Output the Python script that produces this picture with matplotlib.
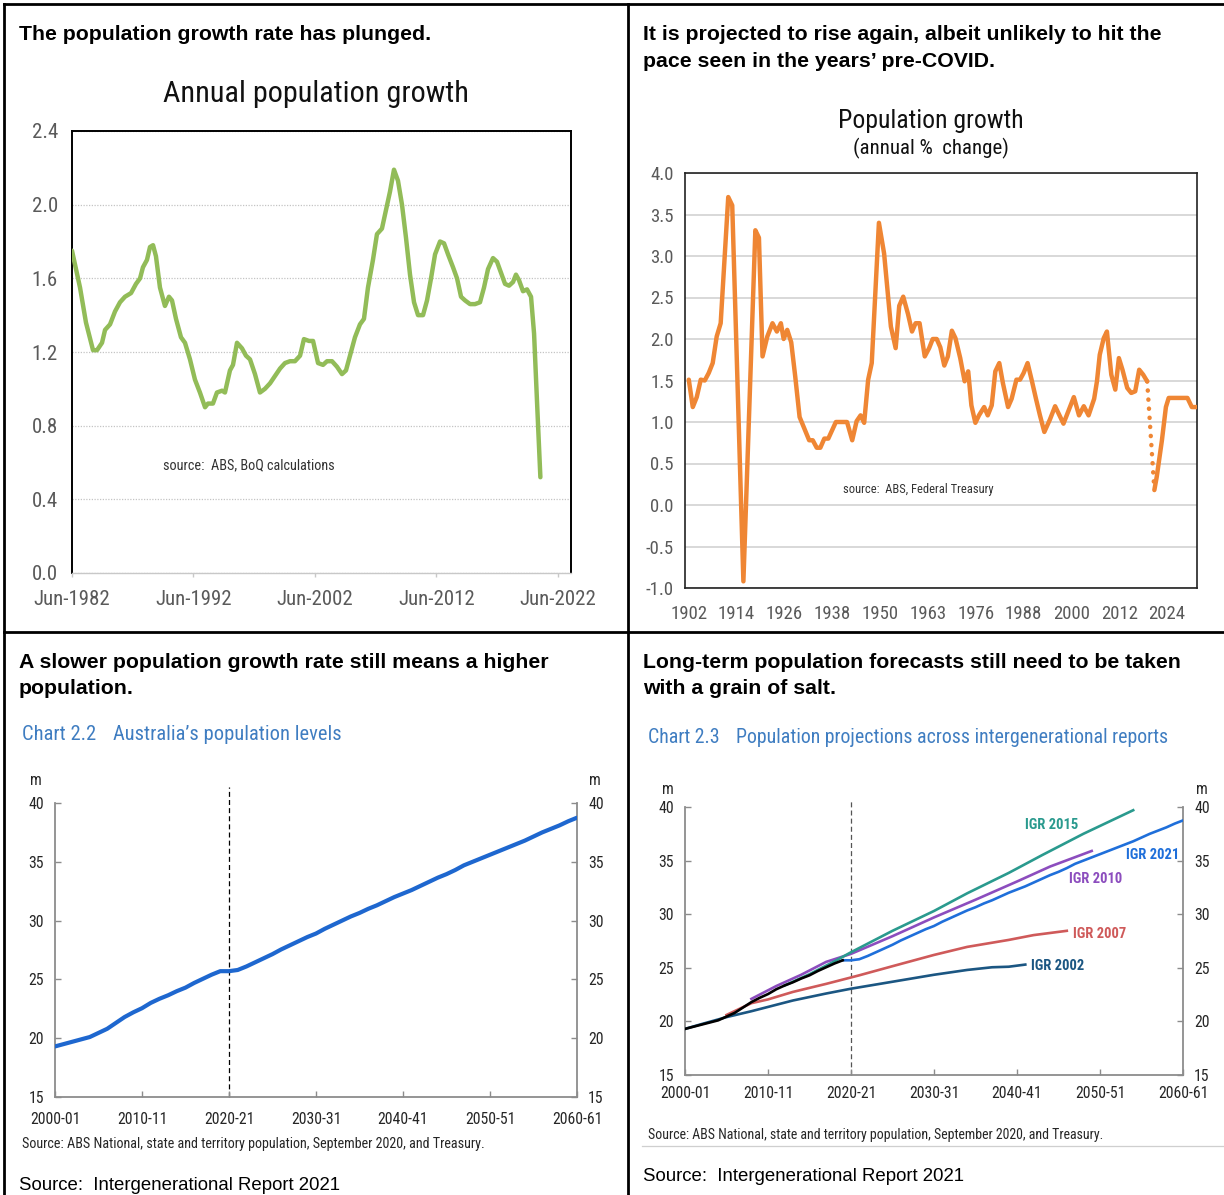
import matplotlib
matplotlib.use("Agg")
import matplotlib.pyplot as plt
from matplotlib import font_manager
from matplotlib.lines import Line2D

# ---------------------------------------------------------------- data
# Panel 1: annual population growth (%), quarterly readings (decimal year)
growth_dates = [1982.50, 1983.16, 1983.65, 1984.23, 1984.56, 1984.97, 1985.22, 1985.63,
                1986.04, 1986.45, 1986.86, 1987.36, 1987.77, 1988.10, 1988.34, 1988.67,
                1988.92, 1989.17, 1989.41, 1989.74, 1990.15, 1990.48, 1990.73, 1991.06,
                1991.47, 1991.80, 1992.21, 1992.62, 1993.03, 1993.45, 1993.69, 1994.10,
                1994.43, 1994.85, 1995.09, 1995.50, 1995.75, 1996.08, 1996.49, 1996.82,
                1997.15, 1997.56, 1997.97, 1998.38, 1998.80, 1999.21, 1999.62, 2000.03,
                2000.44, 2000.85, 2001.27, 2001.59, 2002.01, 2002.34, 2002.75, 2003.16,
                2003.49, 2003.90, 2004.31, 2004.72, 2005.05, 2005.38, 2005.79, 2006.20,
                2006.53, 2006.86, 2007.27, 2007.60, 2008.01, 2008.34, 2008.67, 2009.00,
                2009.33, 2009.66, 2009.99, 2010.32, 2010.65, 2010.98, 2011.39, 2011.72,
                2012.05, 2012.38, 2012.79, 2013.12, 2013.45, 2013.86, 2014.19, 2014.52,
                2014.85, 2015.26, 2015.67, 2016.08, 2016.41, 2016.74, 2017.15, 2017.48,
                2017.81, 2018.14, 2018.47, 2018.80, 2019.04, 2019.29, 2019.62, 2019.95,
                2020.28, 2020.53, 2020.78, 2021.05]
growth_pct = [1.75, 1.55, 1.36, 1.21, 1.21, 1.25, 1.32, 1.35,
              1.42, 1.47, 1.50, 1.52, 1.57, 1.60, 1.66, 1.70,
              1.77, 1.78, 1.72, 1.55, 1.45, 1.50, 1.48, 1.38,
              1.28, 1.25, 1.16, 1.05, 0.98, 0.90, 0.92, 0.92,
              0.98, 0.99, 0.98, 1.10, 1.13, 1.25, 1.22, 1.18,
              1.16, 1.08, 0.98, 1.00, 1.03, 1.07, 1.11, 1.14,
              1.15, 1.15, 1.18, 1.27, 1.26, 1.26, 1.14, 1.13,
              1.15, 1.15, 1.12, 1.08, 1.10, 1.18, 1.28, 1.35,
              1.38, 1.55, 1.70, 1.84, 1.87, 1.97, 2.07, 2.19,
              2.13, 2.00, 1.82, 1.62, 1.47, 1.40, 1.40, 1.48,
              1.60, 1.73, 1.80, 1.79, 1.73, 1.66, 1.60, 1.50,
              1.48, 1.46, 1.46, 1.47, 1.55, 1.65, 1.71, 1.69,
              1.63, 1.57, 1.56, 1.58, 1.62, 1.59, 1.53, 1.54,
              1.50, 1.30, 0.92, 0.52]
growth_xticks = [1982.5, 1992.5, 2002.5, 2012.5, 2022.5]
growth_xlabels = ["Jun-1982", "Jun-1992", "Jun-2002", "Jun-2012", "Jun-2022"]
growth_yticks = [0.0, 0.4, 0.8, 1.2, 1.6, 2.0, 2.4]
growth_ylabels = ["0.0", "0.4", "0.8", "1.2", "1.6", "2.0", "2.4"]

# Panel 2: population growth (annual % change) by chart period
hist_period = [0.0, 1.0, 2.0, 3.0, 4.0, 5.0, 6.0, 7.0, 8.0, 9.9, 10.9, 13.7, 16.7, 17.6,
               18.5, 19.7, 21.0, 22.1, 23.1, 23.8, 24.7, 25.7, 26.7, 27.8, 29.0, 30.2,
               31.1, 32.1, 33.0, 34.0, 35.0, 36.9, 39.7, 41.0, 42.1, 43.1, 44.0, 45.0,
               45.9, 47.7, 49.0, 50.7, 51.9, 52.8, 53.8, 55.0, 56.0, 56.9, 57.9, 59.2,
               60.3, 61.2, 62.2, 63.1, 64.1, 65.0, 66.0, 66.9, 68.1, 69.2, 70.1, 70.9,
               71.9, 72.8, 74.1, 75.0, 76.0, 76.9, 77.9, 78.8, 80.1, 81.0, 82.2, 83.1,
               84.0, 85.0, 86.1, 87.1, 88.1, 89.2, 90.6, 91.9, 92.8, 94.0, 95.3, 96.6,
               97.9, 99.1, 100.3, 101.7, 102.4, 103.1, 104.1, 104.9, 106.0, 107.0,
               107.9, 108.8, 110.0, 111.0, 112.0, 113.0, 114.0, 115.0]
hist_change = [1.51, 1.18, 1.30, 1.51, 1.50, 1.59, 1.71, 2.03, 2.19, 3.71, 3.61, -0.92, 3.31, 3.22,
               1.79, 2.03, 2.19, 2.09, 2.19, 2.00, 2.11, 1.96, 1.55, 1.06, 0.92, 0.78,
               0.78, 0.69, 0.69, 0.80, 0.80, 1.00, 1.00, 0.78, 1.01, 1.08, 0.99, 1.51,
               1.71, 3.40, 3.03, 2.15, 1.89, 2.40, 2.51, 2.30, 2.09, 2.19, 2.19, 1.79,
               1.89, 2.00, 2.00, 1.90, 1.68, 1.79, 2.10, 2.01, 1.77, 1.49, 1.61, 1.20,
               0.99, 1.08, 1.18, 1.08, 1.20, 1.61, 1.71, 1.47, 1.18, 1.28, 1.51, 1.51,
               1.59, 1.71, 1.49, 1.28, 1.08, 0.88, 1.03, 1.19, 1.10, 0.98, 1.14, 1.30,
               1.08, 1.19, 1.08, 1.28, 1.49, 1.81, 2.01, 2.09, 1.57, 1.39,
               1.77, 1.63, 1.41, 1.35, 1.37, 1.63, 1.57, 1.49]
proj_period = [116.8, 117.4, 118.7, 119.7, 120.4, 125.1, 126.2, 127.5]
proj_change = [0.18, 0.34, 0.78, 1.18, 1.29, 1.29, 1.18, 1.18]
long_tick_periods = [0, 12, 24, 36, 48, 60, 72, 84, 96, 108, 120]
long_tick_labels = ["1902", "1914", "1926", "1938", "1950", "1963", "1976",
                    "1988", "2000", "2012", "2024"]
long_yticks = [-1.0, -0.5, 0.0, 0.5, 1.0, 1.5, 2.0, 2.5, 3.0, 3.5, 4.0]
long_ylabels = ["-1.0", "-0.5", "0.0", "0.5", "1.0", "1.5", "2.0", "2.5", "3.0", "3.5", "4.0"]

# Panel 3: Australia's population (millions) by financial-year start
fy_start = list(range(2000, 2061))
population_m = [19.3, 19.5, 19.7, 19.9, 20.1, 20.45, 20.8, 21.3, 21.8, 22.2,
                22.55, 23.0, 23.35, 23.65, 24.0, 24.3, 24.7, 25.05, 25.4, 25.7,
                25.7, 25.8, 26.1, 26.45, 26.8, 27.15, 27.55, 27.9, 28.25, 28.6,
                28.9, 29.3, 29.65, 30.0, 30.35, 30.65, 31.0, 31.3, 31.65, 32.0,
                32.3, 32.6, 32.95, 33.3, 33.65, 33.95, 34.3, 34.7, 35.0, 35.3,
                35.6, 35.9, 36.2, 36.5, 36.8, 37.15, 37.5, 37.8, 38.1, 38.45,
                38.75]
fy_ticks = [2000, 2010, 2020, 2030, 2040, 2050, 2060]
fy_labels = ["2000-01", "2010-11", "2020-21", "2030-31", "2040-41", "2050-51", "2060-61"]
level_yticks = [15, 20, 25, 30, 35, 40]
level_ylabels = ["15", "20", "25", "30", "35", "40"]
forecast_start = 2020
last_actual = 2019

# Panel 4: projections from earlier intergenerational reports (millions)
igr2002_year = [2000, 2002, 2005, 2008, 2010, 2013, 2017, 2020, 2025, 2030, 2034, 2037, 2039, 2041]
igr2002_pop = [19.3, 19.75, 20.4, 20.95, 21.35, 21.95, 22.6, 23.05, 23.7, 24.35, 24.8, 25.05, 25.1, 25.3]
igr2007_year = [2005, 2008, 2010, 2013, 2017, 2020, 2021, 2025, 2030, 2034, 2039, 2042, 2046]
igr2007_pop = [20.6, 21.7, 22.05, 22.75, 23.5, 24.1, 24.3, 25.15, 26.2, 26.95, 27.6, 28.05, 28.45]
igr2010_year = [2008, 2011, 2014, 2017, 2020, 2025, 2030, 2035, 2040, 2044, 2049]
igr2010_pop = [22.1, 23.3, 24.35, 25.55, 26.3, 27.95, 29.7, 31.35, 33.05, 34.45, 35.9]
igr2015_year = [2012, 2015, 2018, 2020, 2025, 2030, 2034, 2039, 2043, 2048, 2054]
igr2015_pop = [23.35, 24.4, 25.6, 26.45, 28.45, 30.3, 31.95, 33.85, 35.5, 37.5, 39.7]

# ---------------------------------------------------------------- style
def pick_family(cands, default):
    names = {f.name for f in font_manager.fontManager.ttflist}
    for c in cands:
        if c in names:
            return c
    return default

NARROW = pick_family(["Liberation Sans Narrow", "Roboto Condensed",
                      "Open Sans Condensed", "DejaVu Sans Condensed"], "Liberation Sans")
SANS = pick_family(["Liberation Sans", "Arial"], "DejaVu Sans")
plt.rcParams["font.family"] = [SANS, "DejaVu Sans"]
plt.rcParams["axes.unicode_minus"] = False

GREEN = "#92BC58"
ORANGE = "#EF8634"
BLUE = "#1E67CF"
TITLE_BLUE = "#3F7DC1"
TICK_GREY = "#5a5a5a"
SPINE_GREY = "#8c8c8c"

W, H = 1224, 1195
fig = plt.figure(figsize=(W / 100, H / 100), dpi=100)
fig.patch.set_facecolor("white")


def box(left, top, right, bottom):
    return [left / W, 1 - bottom / H, (right - left) / W, (bottom - top) / H]


def ftext(x, y, s, **kw):
    return fig.text(x / W, 1 - y / H, s, **kw)


def fline(xs, ys, **kw):
    fig.add_artist(Line2D([x / W for x in xs], [1 - y / H for y in ys], **kw))


# table borders
fline([4, 1224], [4, 4], color="black", lw=2)
fline([4, 4], [4, 1195], color="black", lw=2)
fline([628, 628], [4, 1195], color="black", lw=2)
fline([4, 1224], [632, 632], color="black", lw=2)

# headline texts
head_kw = dict(fontsize=15.3, fontweight="bold", color="black", va="baseline", ha="left")
ftext(19, 40, "The population growth rate has plunged.", **head_kw)
ftext(643, 40, "It is projected to rise again, albeit unlikely to hit the", **head_kw)
ftext(643, 67, "pace seen in the years\u2019 pre-COVID.", **head_kw)
ftext(19, 668, "A slower population growth rate still means a higher", **head_kw)
ftext(19, 694, "population.", **head_kw)
ftext(643, 668, "Long-term population forecasts still need to be taken", **head_kw)
ftext(643, 694, "with a grain of salt.", **head_kw)

# ---------------------------------------------------------------- panel 1
ax1 = fig.add_axes(box(72, 131, 571, 573))
ax1.plot(growth_dates, growth_pct, color=GREEN, lw=3.2,
         solid_joinstyle="round", solid_capstyle="round", zorder=3)
ax1.set_xlim(1982.5, 2023.57)
ax1.set_ylim(0, 2.4)
ax1.set_yticks(growth_yticks)
ax1.set_yticklabels(growth_ylabels)
ax1.set_xticks(growth_xticks)
ax1.set_xticklabels(growth_xlabels)
ax1.yaxis.grid(True, color="#c4c4c4", lw=0.9, ls=(0, (1, 1.2)))
for side in ("left", "top", "right"):
    ax1.spines[side].set_color("black")
    ax1.spines[side].set_linewidth(1.4)
ax1.spines["bottom"].set_color("#c8c8c8")
ax1.spines["bottom"].set_linewidth(1.0)
ax1.tick_params(axis="y", length=0, pad=10, labelsize=15, labelcolor=TICK_GREY)
ax1.tick_params(axis="x", length=3, width=1, color="#c8c8c8", direction="out",
                pad=9, labelsize=15, labelcolor=TICK_GREY)
for lab in ax1.get_xticklabels() + ax1.get_yticklabels():
    lab.set_family(NARROW)
ftext(316, 102, "Annual population growth", ha="center", va="baseline",
      fontsize=21.8, family=NARROW, color="#111111")
ftext(163, 469, "source:  ABS, BoQ calculations", ha="left", va="baseline",
      fontsize=10.3, family=NARROW, color="#333333")

# ---------------------------------------------------------------- panel 2
ax2 = fig.add_axes(box(685, 173, 1197, 588))
ax2.plot(hist_period, hist_change, color=ORANGE, lw=3.2,
         solid_joinstyle="round", solid_capstyle="round", zorder=3)
ax2.plot([hist_period[-1], proj_period[0]], [hist_change[-1], proj_change[0]],
         color=ORANGE, lw=3.2, ls=(0, (0.05, 2.0)), dash_capstyle="round", zorder=3)
ax2.plot(proj_period, proj_change, color=ORANGE, lw=3.2,
         solid_joinstyle="round", solid_capstyle="round", zorder=3)
ax2.set_xlim(-0.95, 127.5)
ax2.set_ylim(-1.0, 4.0)
ax2.set_yticks(long_yticks)
ax2.set_yticklabels(long_ylabels)
ax2.set_xticks(long_tick_periods)
ax2.set_xticklabels(long_tick_labels)
ax2.yaxis.grid(True, color="#d6d6d6", lw=1.3)
for side in ax2.spines:
    ax2.spines[side].set_color("#222222")
    ax2.spines[side].set_linewidth(1.2)
ax2.tick_params(axis="y", length=0, pad=8, labelsize=13.5, labelcolor=TICK_GREY)
ax2.tick_params(axis="x", length=0, pad=12.5, labelsize=13.5, labelcolor=TICK_GREY)
for lab in ax2.get_xticklabels() + ax2.get_yticklabels():
    lab.set_family(NARROW)
ftext(931, 128, "Population growth", ha="center", va="baseline",
      fontsize=18.5, family=NARROW, color="#111111")
ftext(931, 154, "(annual %  change)", ha="center", va="baseline",
      fontsize=15, family=NARROW, color="#111111")
ftext(843, 493, "source:  ABS, Federal Treasury", ha="left", va="baseline",
      fontsize=9, family=NARROW, color="#333333")


# ---------------------------------------------------------------- panels 3 & 4 shared styling
def style_levels(ax, dash_color, dash_top, xpad):
    ax.set_xlim(fy_ticks[0], fy_ticks[-1])
    ax.set_ylim(level_yticks[0], level_yticks[-1])
    ax.set_yticks(level_yticks)
    ax.set_yticklabels(level_ylabels)
    ax.set_xticks(fy_ticks)
    ax.set_xticklabels(fy_labels)
    ax.spines["top"].set_visible(False)
    for side in ("left", "right", "bottom"):
        ax.spines[side].set_color(SPINE_GREY)
        ax.spines[side].set_linewidth(1.3)
    ax.tick_params(axis="y", which="both", direction="in", length=4, width=1,
                   color=SPINE_GREY, left=True, right=True, labelleft=True,
                   labelright=True, pad=8, labelsize=11.3, labelcolor="#262626")
    ax.tick_params(axis="x", direction="in", length=4, width=1, color=SPINE_GREY,
                   pad=xpad, labelsize=11.3, labelcolor="#262626")
    for lab in ax.get_xticklabels() + ax.get_yticklabels() + \
            [t.label2 for t in ax.yaxis.get_major_ticks()]:
        lab.set_family(NARROW)
    ax.axvline(forecast_start, ymin=0, ymax=dash_top, color=dash_color, lw=0.9,
               ls=(0, (4, 2.5)), clip_on=False, zorder=1)


# ---------------------------------------------------------------- panel 3
ax3 = fig.add_axes(box(55, 803, 577, 1097))
ax3.plot(fy_start, population_m, color=BLUE, lw=3.0, solid_capstyle="round", zorder=3)
style_levels(ax3, "black", 1.055, 11)
ftext(36, 785, "m", ha="center", va="baseline", fontsize=11.3, family=NARROW, color="#262626")
ftext(595, 785, "m", ha="center", va="baseline", fontsize=11.3, family=NARROW, color="#262626")
ftext(22, 740, "Chart 2.2", ha="left", va="baseline", fontsize=14.8, family=NARROW, color=TITLE_BLUE)
ftext(113, 740, "Australia\u2019s population levels", ha="left", va="baseline",
      fontsize=14.8, family=NARROW, color=TITLE_BLUE)
ftext(22, 1148, "Source: ABS National, state and territory population, September 2020, and Treasury.",
      ha="left", va="baseline", fontsize=10.2, family=NARROW, color="#262626")
ftext(19, 1190, "Source:  Intergenerational Report 2021", ha="left", va="baseline",
      fontsize=13.4, color="black")

# ---------------------------------------------------------------- panel 4
ax4 = fig.add_axes(box(685, 807, 1183, 1075))
igr_lw = 1.9
ax4.plot(igr2002_year, igr2002_pop, color="#1B5682", lw=igr_lw, zorder=3)
ax4.plot(igr2007_year, igr2007_pop, color="#CF5A5A", lw=igr_lw, zorder=3)
ax4.plot(igr2010_year, igr2010_pop, color="#8C4DBE", lw=igr_lw, zorder=3)
ax4.plot(igr2015_year, igr2015_pop, color="#2A9A8E", lw=igr_lw, zorder=3)
i_last = fy_start.index(last_actual)
ax4.plot(fy_start[i_last:], population_m[i_last:], color="#1F6FDA", lw=igr_lw, zorder=3)
ax4.plot(fy_start[:i_last + 1], population_m[:i_last + 1], color="black", lw=igr_lw, zorder=4)
style_levels(ax4, "#555555", 1.026, 8)
lab_kw = dict(ha="center", va="center", fontsize=10.5, fontweight="bold", family=NARROW)
ax4.text(2044.2, 38.3, "IGR 2015", color="#2A9A8E", **lab_kw)
ax4.text(2056.3, 35.5, "IGR 2021", color="#1F6FDA", **lab_kw)
ax4.text(2049.5, 33.3, "IGR 2010", color="#8C4DBE", **lab_kw)
ax4.text(2050.0, 28.15, "IGR 2007", color="#CF5A5A", **lab_kw)
ax4.text(2044.9, 25.17, "IGR 2002", color="#1B5682", **lab_kw)
ftext(668, 794, "m", ha="center", va="baseline", fontsize=11.3, family=NARROW, color="#262626")
ftext(1202, 794, "m", ha="center", va="baseline", fontsize=11.3, family=NARROW, color="#262626")
ftext(648, 743, "Chart 2.3", ha="left", va="baseline", fontsize=14.3, family=NARROW, color=TITLE_BLUE)
ftext(736, 743, "Population projections across intergenerational reports", ha="left",
      va="baseline", fontsize=14.3, family=NARROW, color=TITLE_BLUE)
ftext(648, 1139, "Source: ABS National, state and territory population, September 2020, and Treasury.",
      ha="left", va="baseline", fontsize=10.0, family=NARROW, color="#262626")
fline([642, 1224], [1146, 1146], color="#cfcfcf", lw=0.9)
ftext(643, 1181, "Source:  Intergenerational Report 2021", ha="left", va="baseline",
      fontsize=13.4, color="black")

fig.savefig("out.png", dpi=100, facecolor="white")
